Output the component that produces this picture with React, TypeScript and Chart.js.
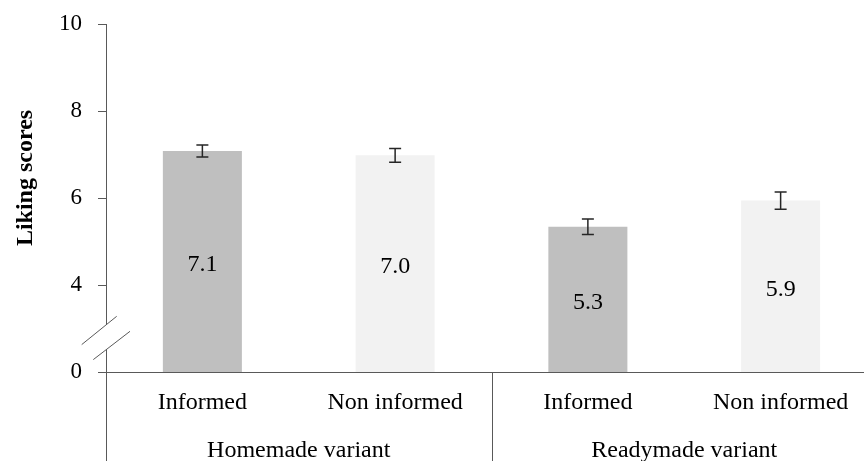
import React, { useEffect, useRef } from 'react';
import { Chart, registerables } from 'chart.js';

Chart.register(...registerables);

const FONT = "'Liberation Serif', 'Times New Roman', serif";

const categories = ['Informed', 'Non informed', 'Informed', 'Non informed'];
const groups = ['Homemade variant', 'Readymade variant'];
const groupSizes = [2, 2];
const scores = [7.08, 6.98, 5.34, 5.94];
const scoreLabels = ['7.1', '7.0', '5.3', '5.9'];
const errors = [0.14, 0.16, 0.18, 0.2];
const barColors = ['#BFBFBF', '#F2F2F2', '#BFBFBF', '#F2F2F2'];
const yTickValues = [2, 4, 6, 8, 10];
const yTickLabels = ['0', '4', '6', '8', '10'];
const yTitle = 'Liking scores';
const axisBreakValue = 2.8;

const LINE = '#595959';

const decorPlugin = {
  id: 'decor',
  afterDatasetsDraw(chart: any) {
    const ctx = chart.ctx;
    const meta = chart.getDatasetMeta(0);
    const y = chart.scales.y;
    const basePx = y.getPixelForValue(y.min);
    ctx.save();
    ctx.strokeStyle = '#262626';
    ctx.lineWidth = 1.5;
    meta.data.forEach((el: any, i: number) => {
      const x = el.x;
      const yHi = y.getPixelForValue(scores[i] + errors[i]);
      const yLo = y.getPixelForValue(scores[i] - errors[i]);
      ctx.beginPath();
      ctx.moveTo(x, yHi);
      ctx.lineTo(x, yLo);
      ctx.moveTo(x - 6, yHi);
      ctx.lineTo(x + 6, yHi);
      ctx.moveTo(x - 6, yLo);
      ctx.lineTo(x + 6, yLo);
      ctx.stroke();
      ctx.fillStyle = '#000';
      ctx.font = `24px ${FONT}`;
      ctx.textAlign = 'center';
      ctx.textBaseline = 'middle';
      const top = y.getPixelForValue(scores[i]);
      ctx.fillText(scoreLabels[i], x, (top + basePx) / 2 + 3);
    });
    ctx.restore();
  },
  afterDraw(chart: any) {
    const ctx = chart.ctx;
    const area = chart.chartArea;
    const x = chart.scales.x;
    const y = chart.scales.y;
    const H = chart.height;
    const catW = (x.right - x.left) / categories.length;
    ctx.save();
    ctx.strokeStyle = LINE;
    ctx.lineWidth = 1;
    let start = 0;
    const bounds: number[] = [Math.round(x.getPixelForValue(0) - catW / 2) + 0.5];
    groups.forEach((g, gi) => {
      const end = start + groupSizes[gi] - 1;
      const l = x.getPixelForValue(start) - catW / 2;
      const r = x.getPixelForValue(end) + catW / 2;
      bounds.push(Math.round(r) + 0.5);
      ctx.fillStyle = '#000';
      ctx.font = `24px ${FONT}`;
      ctx.textAlign = 'center';
      ctx.textBaseline = 'alphabetic';
      ctx.fillText(g, (l + r) / 2, area.bottom + 85);
      start = end + 1;
    });
    ctx.beginPath();
    bounds.forEach((bx) => {
      ctx.moveTo(bx, area.bottom);
      ctx.lineTo(bx, H);
    });
    ctx.stroke();

    // axis break
    const ax = y.right;
    const c = y.getPixelForValue(axisBreakValue);
    ctx.fillStyle = '#fff';
    ctx.beginPath();
    ctx.moveTo(ax - 24.3, c + 7.4);
    ctx.lineTo(ax + 10.7, c - 20.9);
    ctx.lineTo(ax + 24, c - 5.9);
    ctx.lineTo(ax - 12.7, c + 22.4);
    ctx.closePath();
    ctx.fill();
    ctx.strokeStyle = LINE;
    ctx.lineWidth = 1;
    ctx.beginPath();
    ctx.moveTo(ax - 24.3, c + 7.4);
    ctx.lineTo(ax + 10.7, c - 20.9);
    ctx.moveTo(ax - 12.7, c + 22.4);
    ctx.lineTo(ax + 24, c - 5.9);
    ctx.stroke();

    // y title
    ctx.translate(32, (area.top + area.bottom) / 2 - 20);
    ctx.rotate(-Math.PI / 2);
    ctx.fillStyle = '#000';
    ctx.font = `bold 24px ${FONT}`;
    ctx.textAlign = 'center';
    ctx.textBaseline = 'alphabetic';
    ctx.fillText(yTitle, 0, 0);
    ctx.restore();
  },
};

export default function App() {
  const ref = useRef<HTMLCanvasElement | null>(null);
  useEffect(() => {
    if (!ref.current) return;
    const chart = new Chart(ref.current, {
      type: 'bar',
      data: {
        labels: categories,
        datasets: [
          {
            data: scores,
            backgroundColor: barColors,
            borderWidth: 0,
            categoryPercentage: 1,
            barPercentage: 0.41,
          },
        ],
      },
      options: {
        responsive: false,
        animation: false,
        events: [],
        layout: { padding: { left: 0, top: 24, right: 3, bottom: 0 } },
        plugins: {
          legend: { display: false },
          tooltip: { enabled: false },
          title: { display: false },
        },
        scales: {
          x: {
            offset: true,
            grid: { display: false, drawTicks: false },
            border: { display: true, color: LINE, width: 1 },
            ticks: {
              autoSkip: false,
              maxRotation: 0,
              padding: 16,
              color: '#000',
              font: { family: FONT, size: 24 },
            },
            afterFit: (s: any) => {
              s.height = 89;
            },
          },
          y: {
            min: 2,
            max: 10,
            afterBuildTicks: (s: any) => {
              s.ticks = yTickValues.map((v) => ({ value: v }));
            },
            grid: {
              drawOnChartArea: false,
              drawTicks: true,
              tickLength: 8,
              color: LINE,
            },
            border: { display: true, color: LINE, width: 1 },
            ticks: {
              padding: 16,
              color: '#000',
              font: { family: FONT, size: 23 },
              callback: (v: any) => {
                const i = yTickValues.indexOf(Number(v));
                return i >= 0 ? yTickLabels[i] : '';
              },
            },
            afterFit: (s: any) => {
              s.width = 106;
              s.paddingTop = 0;
              s.paddingBottom = 0;
            },
          },
        },
      },
      plugins: [decorPlugin],
    });
    return () => chart.destroy();
  }, []);
  return (
    <div
      style={{
        position: 'fixed',
        left: 0,
        top: 0,
        width: 864,
        height: 461,
        overflow: 'hidden',
        background: '#fff',
      }}
    >
      <canvas ref={ref} width={880} height={461} style={{ display: 'block' }} />
    </div>
  );
}
